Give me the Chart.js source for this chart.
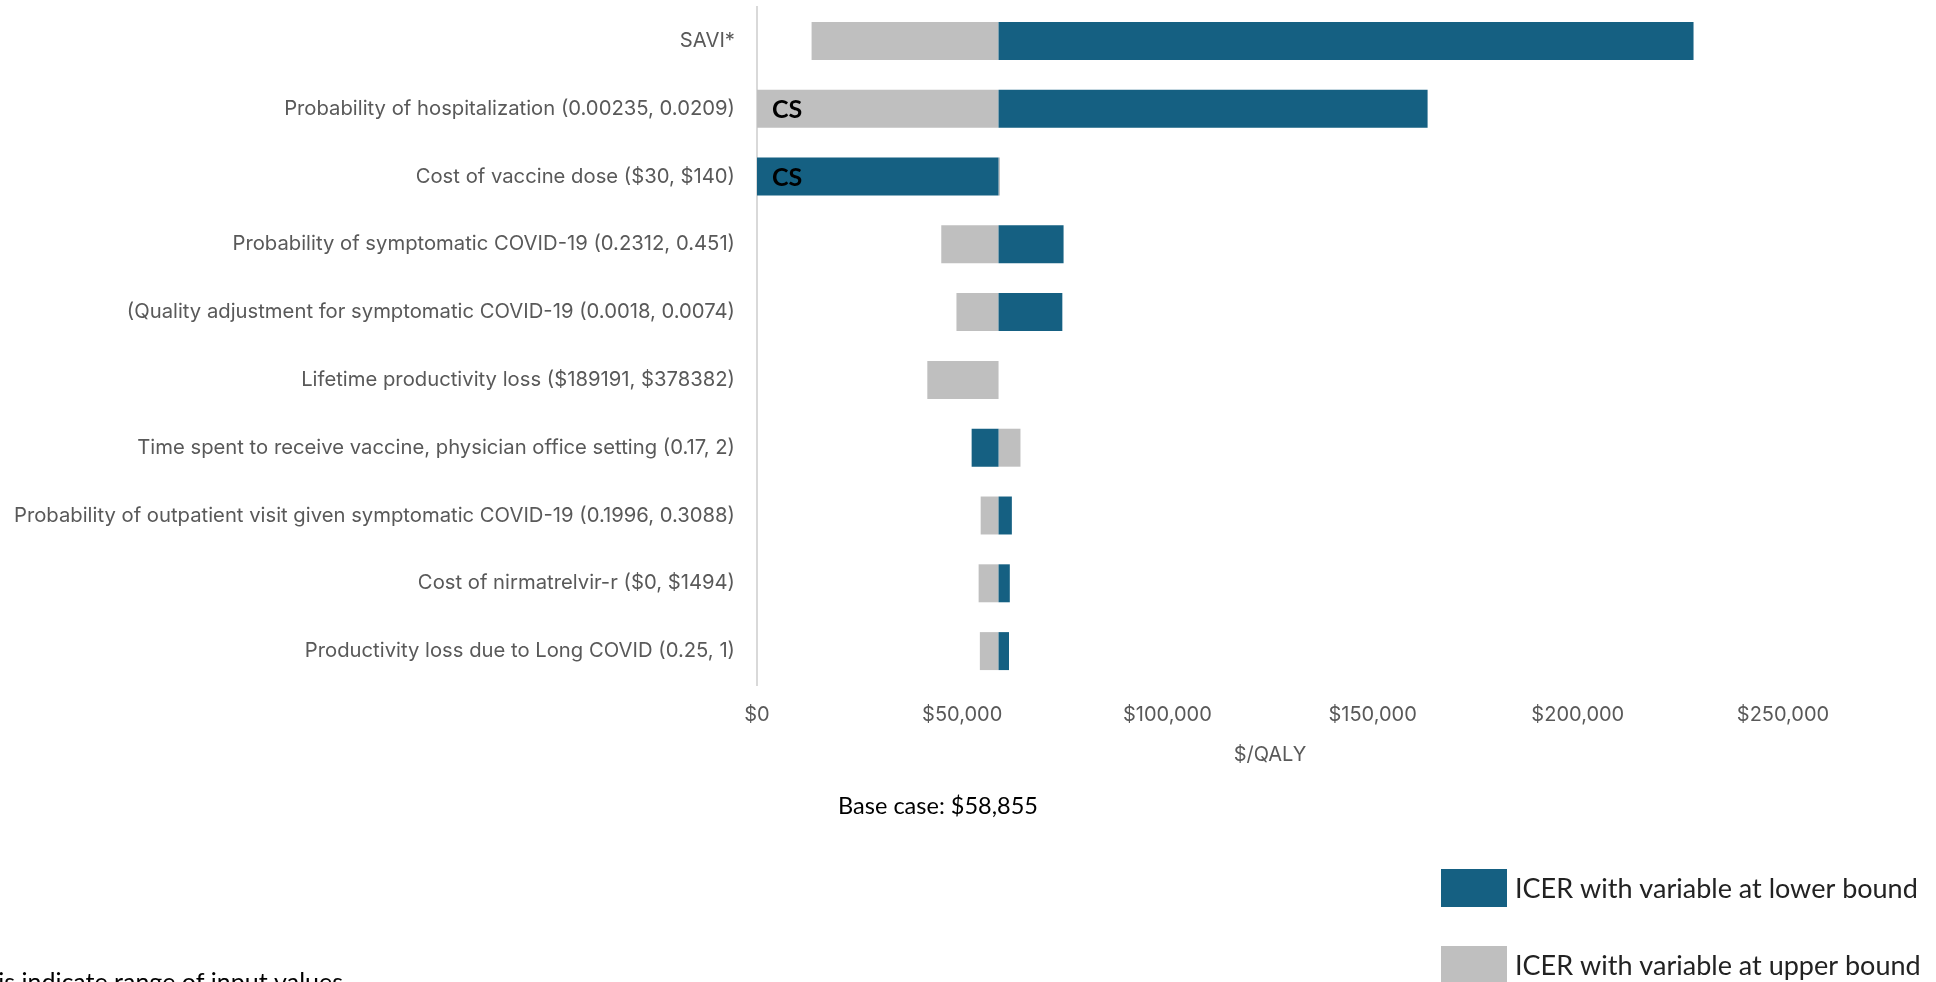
<!DOCTYPE html>
<html>
<head>
<meta charset="utf-8">
<script src="https://cdn.jsdelivr.net/npm/chart.js@4.4.1/dist/chart.umd.min.js"></script>
<style>
  html, body { margin: 0; padding: 0; background: #fff; }
</style>
</head>
<body>
<canvas id="tornado" width="1936" height="982"></canvas>
<script>
// --- DATOS ---
const parameters = [
    'SAVI*',
    'Probability of hospitalization (0.00235, 0.0209)',
    'Cost of vaccine dose ($30, $140)',
    'Probability of symptomatic COVID-19 (0.2312, 0.451)',
    '(Quality adjustment for symptomatic COVID-19 (0.0018, 0.0074)',
    'Lifetime productivity loss ($189191, $378382)',
    'Time spent to receive vaccine, physician office setting (0.17, 2)',
    'Probability of outpatient visit given symptomatic COVID-19 (0.1996, 0.3088)',
    'Cost of nirmatrelvir-r ($0, $1494)',
    'Productivity loss due to Long COVID (0.25, 1)'
];
// ICER with variable at lower bound
const icerLower = [228200, 163400, 0, 74700, 74400, 58855, 52300, 62100, 61600, 61400];
// ICER with variable at upper bound
const icerUpper = [13300, 0, 59200, 44900, 48600, 41500, 64200, 54500, 54000, 54300];
const csMarks = ['', 'CS', 'CS', '', '', '', '', '', '', ''];
const baseCase = 58855;
const xTicks = [0, 50000, 100000, 150000, 200000, 250000];

const AXIS_FONT = "Inter, Roboto, sans-serif";
const NOTE_FONT = "Lato, 'Open Sans', sans-serif";

// --- ANOTACIONES (CS, caso base, leyenda, nota) ---
const annotations = {
    id: 'annotations',
    afterDraw(chart) {
        const { ctx, scales: { x, y } } = chart;
        ctx.save();

        // CS = cost saving
        ctx.fillStyle = '#000';
        ctx.font = "bold 25px " + NOTE_FONT;
        ctx.textAlign = 'left';
        ctx.textBaseline = 'middle';
        csMarks.forEach((m, i) => {
            if (m) ctx.fillText(m, x.getPixelForValue(0) + 15, y.getPixelForValue(i) + 1);
        });

        ctx.font = "23.5px " + NOTE_FONT;
        ctx.textAlign = 'center';
        ctx.fillText('Base case: $' + baseCase.toLocaleString('en-US'), 938, 806);

        // leyenda
        ctx.font = "27px " + NOTE_FONT;
        ctx.textAlign = 'left';
        chart.data.datasets.forEach((ds, i) => {
            const top = 869 + i * 77;
            ctx.fillStyle = ds.backgroundColor;
            ctx.fillRect(1441, top, 66, 38);
            ctx.fillStyle = '#222';
            ctx.fillText(ds.label, 1515, top + 20);
        });

        // nota al pie (cortada en el original)
        ctx.fillStyle = '#000';
        ctx.font = "25px " + NOTE_FONT;
        ctx.textAlign = 'right';
        ctx.textBaseline = 'alphabetic';
        ctx.fillText('axis indicate range of input values', 343, 991);
        ctx.restore();
    }
};

new Chart(document.getElementById('tornado'), {
    type: 'bar',
    data: {
        labels: parameters,
        datasets: [{
            label: 'ICER with variable at lower bound',
            data: icerLower.map(v => [baseCase, v]),
            backgroundColor: '#156082',
            grouped: false
        }, {
            label: 'ICER with variable at upper bound',
            data: icerUpper.map(v => [baseCase, v]),
            backgroundColor: '#BFBFBF',
            grouped: false
        }]
    },
    options: {
        indexAxis: 'y',
        responsive: false,
        animation: false,
        events: [],
        categoryPercentage: 1,
        barPercentage: 0.56,
        layout: { padding: { top: 7, right: 153, left: 0, bottom: 0 } },
        plugins: { legend: { display: false }, tooltip: { enabled: false } },
        scales: {
            x: {
                min: 0, max: 250000,
                afterBuildTicks: s => { s.ticks = xTicks.map(v => ({ value: v })); },
                afterFit: s => { s.height = 297; },
                grid: { display: false, drawTicks: false },
                border: { display: false },
                ticks: {
                    padding: 18,
                    color: '#595959',
                    font: { family: AXIS_FONT, size: 20 },
                    callback: v => '$' + v.toLocaleString('en-US')
                },
                title: {
                    display: true,
                    text: '$/QALY',
                    color: '#595959',
                    font: { family: AXIS_FONT, size: 20 },
                    padding: { top: 0, bottom: 215 }
                }
            },
            y: {
                afterFit: s => { s.width = 757; s.paddingTop = 0; s.paddingBottom = 0; },
                grid: { display: false, drawTicks: false },
                border: { display: true, color: '#D9D9D9', width: 2 },
                ticks: {
                    padding: 22,
                    color: '#595959',
                    font: { family: AXIS_FONT, size: 20.25 }
                }
            }
        }
    },
    plugins: [annotations]
});
</script>
</body>
</html>
